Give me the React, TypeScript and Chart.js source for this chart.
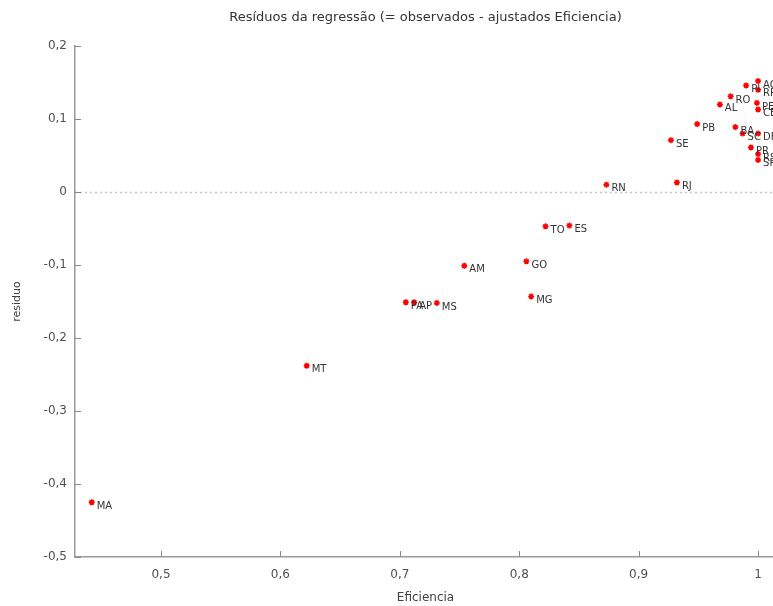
import React, { useEffect, useRef } from "react";
import { Chart, registerables } from "chart.js";

Chart.register(...registerables);

const states = ["MA", "MT", "PA", "AP", "MS", "AM", "GO", "MG", "TO", "ES", "RN", "SE", "RJ", "PB", "AL", "RO", "PI", "AC", "RR", "PE", "CE", "BA", "SC", "DF", "PR", "RS", "SP"];
const eficiencia = [0.442, 0.622, 0.705, 0.712, 0.731, 0.754, 0.806, 0.810, 0.822, 0.842, 0.873, 0.927, 0.932, 0.949, 0.968, 0.977, 0.990, 1.0, 1.0, 0.999, 1.0, 0.981, 0.987, 1.0, 0.994, 1.0, 1.0];
const residuo = [-0.425, -0.238, -0.151, -0.151, -0.152, -0.101, -0.095, -0.143, -0.047, -0.046, 0.010, 0.071, 0.013, 0.093, 0.120, 0.131, 0.146, 0.152, 0.140, 0.122, 0.113, 0.089, 0.080, 0.080, 0.061, 0.052, 0.044];
const xTicks = [0.5, 0.6, 0.7, 0.8, 0.9, 1.0];
const yTicks = [-0.5, -0.4, -0.3, -0.2, -0.1, 0, 0.1, 0.2];

const titleText = "Resíduos da regressão (= observados - ajustados Eficiencia)";
const xTitle = "Eficiencia";
const yTitle = "residuo";

const FONT = "'DejaVu Sans', sans-serif";

const fmt = (v: number) => String(Math.round(v * 10) / 10).replace(".", ",");

const decoPlugin = {
  id: "deco",
  beforeDatasetsDraw(chart: any) {
    const { ctx, chartArea, scales } = chart;
    const py = Math.round(scales.y.getPixelForValue(0)) + 0.5;
    ctx.save();
    ctx.strokeStyle = "#c4c4c4";
    ctx.lineWidth = 1.5;
    ctx.setLineDash([2, 3]);
    ctx.beginPath();
    ctx.moveTo(chartArea.left, py);
    ctx.lineTo(chartArea.right, py);
    ctx.stroke();
    ctx.restore();
  },
  afterDraw(chart: any) {
    const { ctx, chartArea, scales } = chart;
    ctx.save();
    ctx.strokeStyle = "#8a8a8a";
    ctx.lineWidth = 1;
    ctx.beginPath();
    xTicks.forEach((v) => {
      const px = Math.round(scales.x.getPixelForValue(v)) + 0.5;
      ctx.moveTo(px, chartArea.bottom);
      ctx.lineTo(px, chartArea.bottom - 6);
    });
    yTicks.forEach((v) => {
      const py = Math.round(scales.y.getPixelForValue(v)) + 0.5;
      ctx.moveTo(chartArea.left, py);
      ctx.lineTo(chartArea.left + 6, py);
    });
    ctx.stroke();
    ctx.fillStyle = "#333333";
    ctx.font = "13px " + FONT;
    ctx.textAlign = "center";
    ctx.textBaseline = "middle";
    ctx.fillText(titleText, (chartArea.left + chartArea.right) / 2, 18);
    ctx.restore();
  },
  afterDatasetsDraw(chart: any) {
    const { ctx } = chart;
    const meta = chart.getDatasetMeta(0);
    ctx.save();
    ctx.fillStyle = "#333333";
    ctx.font = "10px " + FONT;
    ctx.textAlign = "left";
    ctx.textBaseline = "middle";
    meta.data.forEach((pt: any, i: number) => {
      ctx.fillText(states[i], pt.x + 5, pt.y + 4);
    });
    ctx.restore();
  },
};

export default function App() {
  const ref = useRef<HTMLCanvasElement>(null);
  useEffect(() => {
    if (!ref.current) return;
    const chart = new Chart(ref.current, {
      type: "scatter",
      data: {
        datasets: [
          {
            data: eficiencia.map((x, i) => ({ x, y: residuo[i] })),
            pointStyle: "star",
            radius: 3,
            borderWidth: 1.5,
            borderColor: "#ff0000",
            backgroundColor: "#ff0000",
          },
        ],
      },
      options: {
        responsive: false,
        animation: false,
        devicePixelRatio: 1,
        layout: { padding: { top: 46, right: 14, left: 0, bottom: 0 } },
        plugins: { legend: { display: false }, tooltip: { enabled: false }, title: { display: false } },
        scales: {
          x: {
            type: "linear",
            min: 0.428,
            max: 1.015,
            afterBuildTicks: (s: any) => {
              s.ticks = xTicks.map((v) => ({ value: v }));
            },
            afterFit: (s: any) => {
              s.height = 49;
            },
            border: { display: true, color: "#9a9a9a", width: 1.5 },
            grid: { display: false, drawTicks: false },
            ticks: {
              padding: 11,
              color: "#505050",
              font: { family: FONT, size: 12 },
              callback: (v: any) => fmt(Number(v)),
            },
            title: {
              display: true,
              text: xTitle,
              color: "#404040",
              font: { family: FONT, size: 12 },
              padding: { top: 0, bottom: 1 },
            },
          },
          y: {
            type: "linear",
            min: -0.5,
            max: 0.2,
            afterBuildTicks: (s: any) => {
              s.ticks = yTicks.map((v) => ({ value: v }));
            },
            afterFit: (s: any) => {
              s.width = 75;
            },
            border: { display: true, color: "#9a9a9a", width: 1.5 },
            grid: { display: false, drawTicks: false },
            ticks: {
              padding: 8,
              color: "#505050",
              font: { family: FONT, size: 12 },
              callback: (v: any) => fmt(Number(v)),
            },
            title: {
              display: true,
              text: yTitle,
              color: "#404040",
              font: { family: FONT, size: 11 },
              padding: { top: 11, bottom: 0 },
            },
          },
        },
      },
      plugins: [decoPlugin],
    } as any);
    return () => chart.destroy();
  }, []);
  return (
    <div style={{ position: "fixed", left: 0, top: 0, width: 773, height: 606, overflow: "hidden", background: "#ffffff" }}>
      <canvas ref={ref} width={790} height={606} style={{ width: 790, height: 606, display: "block" }} />
    </div>
  );
}
